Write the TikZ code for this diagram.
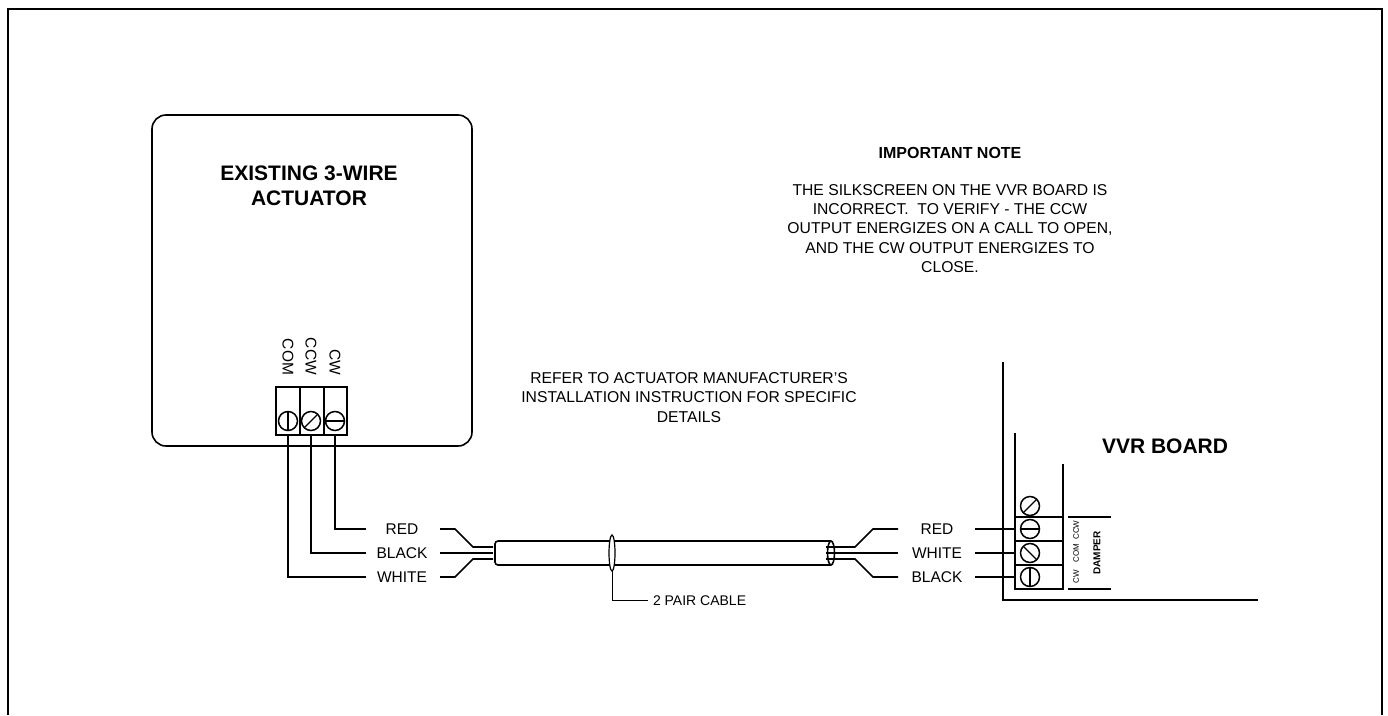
\documentclass[tikz,border=0pt]{standalone}
\usepackage{fontspec}
\setmainfont{Liberation Sans}
\tikzset{
	every node/.style={inner sep=0pt, outer sep=0pt},
	wirelabel/.style={font=\fontsize{15.5}{15.5}\selectfont},
	termlabel/.style={font=\fontsize{15.5}{15.5}\selectfont, rotate=-90, anchor=east},
	smalllabel/.style={font=\fontsize{8}{8}\selectfont, rotate=90},
	notetext/.style={font=\fontsize{15.7}{19.2}\selectfont, align=center},
	heading/.style={font=\bfseries\fontsize{21}{25}\selectfont, align=center},
	wire/.style={line width=1.6pt},
	thinwire/.style={line width=1.2pt},
	screwhead/.style={circle, draw, line width=1.5pt, minimum size=19pt}
}
% screw: name, position, slot angle
\def\screw(#1)(#2)(#3){
	\node[screwhead] (#1) at (#2) {};
	\draw[thinwire] (#1.#3) -- (#1.#3+180);
}
\begin{document}
\begin{tikzpicture}[x=1pt, y=-1pt]
	%%%%% FRAME %%%%%
	\useasboundingbox (0, 0) rectangle (1388, 715);
	\draw[line width=2pt] (8, 715) -- (8, 9) -- (1382, 9) -- (1382, 715);

	%%%%% ACTUATOR %%%%%
	\draw[wire, rounded corners=14pt] (152, 115) rectangle (472, 446);
	\node[heading] (title) at (309, 186) {EXISTING 3-WIRE\\ACTUATOR};

	\draw[wire, fill=white] (276, 387) rectangle (347, 435);
	\draw[wire] (300, 387) -- (300, 435);
	\draw[wire] (324, 387) -- (324, 435);
	\screw(scom)(288, 421)(90)
	\screw(sccw)(311, 421)(45)
	\screw(scw)(335, 421)(0)

	\node[termlabel] (lcom) at (288, 375) {COM};
	\node[termlabel] (lccw) at (311, 375) {CCW};
	\node[termlabel] (lcw) at (335, 375) {CW};

	%%%%% LEFT WIRES %%%%%
	\node[wirelabel] (redl) at (402, 529) {RED};
	\node[wirelabel] (blackl) at (402, 553) {BLACK};
	\node[wirelabel] (whitel) at (402, 577) {WHITE};
	\coordinate (redlw) at (366, 529);
	\coordinate (blacklw) at (366, 553);
	\coordinate (whitelw) at (366, 577);

	\draw[wire] (288, 435) -- (288, 577) -- (whitelw);
	\draw[wire] (311, 435) -- (311, 553) -- (blacklw);
	\draw[wire] (335, 435) -- (335, 529) -- (redlw);

	\draw[wire] (440, 529) -- (455, 529) -- (473, 547) -- (493, 547);
	\draw[wire] (440, 553) -- (493, 553);
	\draw[wire] (440, 577) -- (455, 577) -- (473, 559) -- (493, 559);

	%%%%% CABLE %%%%%
	\draw[wire, rounded corners=3pt] (831, 541) -- (495, 541) -- (495, 565) -- (831, 565);
	\draw[wire, fill=white] (831, 553) ellipse (3.5 and 12);
	\draw[thinwire, fill=white] (612, 553) ellipse (3 and 18);
	\coordinate (bandend) at (612, 571);
	\node[font=\fontsize{14}{14}\selectfont, anchor=west] (cablel) at (653, 601) {2 PAIR CABLE};
	\draw[line width=1pt] (bandend) -- (612, 600) -- (648, 600);

	%%%%% RIGHT WIRES %%%%%
	\draw[wire] (826, 547) -- (855, 547) -- (873, 529) -- (898, 529);
	\draw[wire] (826, 553) -- (898, 553);
	\draw[wire] (826, 559) -- (855, 559) -- (873, 577) -- (898, 577);

	\node[wirelabel] (redr) at (937, 529) {RED};
	\node[wirelabel] (whiter) at (937, 553) {WHITE};
	\node[wirelabel] (blackr) at (937, 577) {BLACK};

	%%%%% VVR BOARD %%%%%
	\draw[wire] (1003, 362) -- (1003, 600) -- (1258, 600);
	\draw[wire] (1015, 433) -- (1015, 589) -- (1063, 589) -- (1063, 464);
	\foreach \y in {517, 541, 565} {
		\draw[wire] (1015, \y) -- (1063, \y);
	}
	\screw(stop)(1030, 506)(45)
	\screw(sred)(1030, 529)(0)
	\screw(swht)(1030, 553)(135)
	\screw(sblk)(1030, 577)(90)

	\draw[wire] (975, 529) -- (1015, 529);
	\draw[wire] (975, 553) -- (1015, 553);
	\draw[wire] (975, 577) -- (1015, 577);

	\draw[wire] (1068, 517) -- (1111, 517);
	\draw[wire] (1068, 589) -- (1111, 589);
	\node[smalllabel] (lbccw) at (1076, 530) {CCW};
	\node[smalllabel] (lbcom) at (1076, 553) {COM};
	\node[smalllabel] (lbcw) at (1076, 577) {CW};
	\node[rotate=90, font=\bfseries\fontsize{10}{10}\selectfont] (damper) at (1097, 553) {DAMPER};
	\node[font=\bfseries\fontsize{21}{21}\selectfont] (vvr) at (1165, 446) {VVR BOARD};

	%%%%% NOTES %%%%%
	\node[font=\bfseries\fontsize{16}{16}\selectfont] (imp) at (950, 153) {IMPORTANT NOTE};
	\node[notetext] (note) at (950, 228.5) {THE SILKSCREEN ON THE VVR BOARD IS\\INCORRECT.\ \ TO VERIFY - THE CCW\\OUTPUT ENERGIZES ON A CALL TO OPEN,\\AND THE CW OUTPUT ENERGIZES TO\\CLOSE.};
	\node[notetext] (refer) at (689, 397.5) {REFER TO ACTUATOR MANUFACTURER'S\\INSTALLATION INSTRUCTION FOR SPECIFIC\\DETAILS};
\end{tikzpicture}
\end{document}
